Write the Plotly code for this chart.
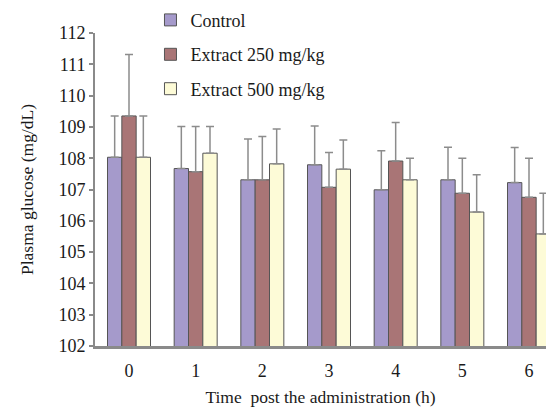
import plotly.graph_objects as go

hours = ["0", "1", "2", "3", "4", "5", "6"]
series_names = ["Control", "Extract 250 mg/kg", "Extract 500 mg/kg"]
control = [108.03, 107.67, 107.31, 107.79, 106.99, 107.31, 107.22]
control_err = [1.32, 1.34, 1.30, 1.24, 1.25, 1.04, 1.12]
ext250 = [109.35, 107.57, 107.31, 107.07, 107.91, 106.88, 106.75]
ext250_err = [1.96, 1.44, 1.38, 1.11, 1.23, 1.12, 1.25]
ext500 = [108.03, 108.16, 107.82, 107.65, 107.31, 106.28, 105.58]
ext500_err = [1.32, 0.85, 1.11, 0.93, 0.69, 1.19, 1.30]
y_ticks = [102, 103, 104, 105, 106, 107, 108, 109, 110, 111, 112]

colors = ["#a59acb", "#a97576", "#fdfbd7"]
FONT = "Liberation Serif"
TXT = "#1a1a1a"

fig = go.Figure()
for i, (name, vals, errs) in enumerate(zip(series_names, [control, ext250, ext500],
                                          [control_err, ext250_err, ext500_err])):
    fig.add_trace(go.Bar(
        x=list(range(len(hours))), y=vals, name=name,
        legendgroup=name,
        marker=dict(color=colors[i], line=dict(color="#555555", width=1)),
        error_y=dict(type="data", symmetric=False, array=errs,
                     arrayminus=[0] * len(errs), color="#8c8c8c",
                     thickness=1.5, width=4),
    ))

fig.update_layout(
    width=546, height=408,
    margin=dict(l=95, r=0, t=33, b=62),
    paper_bgcolor="white", plot_bgcolor="white",
    barmode="group", bargap=0.355, bargroupgap=0,
    font=dict(family=FONT, size=17, color=TXT),
    showlegend=True,
    legend=dict(x=0.123, y=1.1, xanchor="left", yanchor="top",
                bgcolor="rgba(0,0,0,0)",
                font=dict(family=FONT, size=18, color=TXT),
                traceorder="grouped", tracegroupgap=8),
    xaxis=dict(range=[-0.51, 6.255], tickvals=list(range(len(hours))),
               ticktext=hours, showline=True, linecolor="#8a8a8a", linewidth=3,
               ticks="", showgrid=False, zeroline=False, ticklabelstandoff=6,
               tickfont=dict(family=FONT, size=18, color=TXT),
               title=dict(text="Time  post the administration (h)", standoff=12,
                          font=dict(family=FONT, size=17.5, color=TXT))),
    yaxis=dict(range=[102, 112], tickvals=y_ticks, showline=True,
               linecolor="#8a8a8a", linewidth=2, ticks="outside", ticklen=4,
               tickcolor="#8a8a8a", tickwidth=1.5, showgrid=False, zeroline=False,
               tickfont=dict(family=FONT, size=18, color=TXT),
               title=dict(text="Plasma glucose (mg/dL)", standoff=20,
                          font=dict(family=FONT, size=17.5, color=TXT))),
)

fig.write_html("out.html", config={"displayModeBar": False},
               post_script="document.body.style.margin='0';")
